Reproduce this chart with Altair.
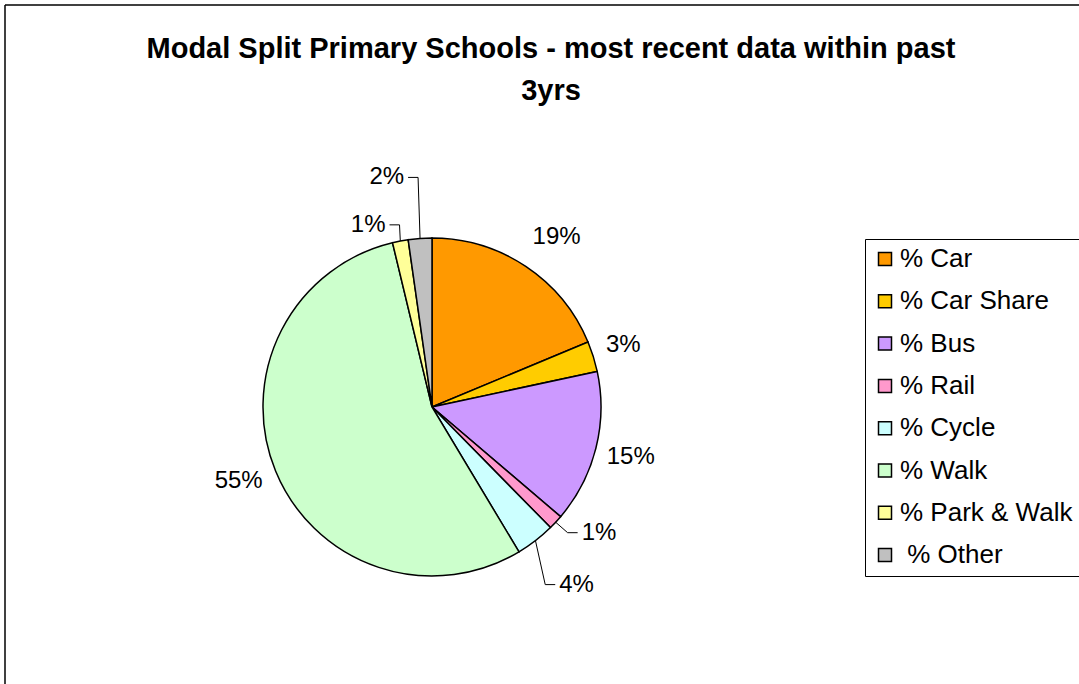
import math
import pandas as pd
import altair as alt

# ---------------- data ----------------
categories = ["% Car", "% Car Share", "% Bus", "% Rail", "% Cycle", "% Walk",
              "% Park & Walk", "\u200b\u00a0% Other"]
shares = [18.7, 2.9, 14.6, 1.4, 3.75, 54.8, 1.5, 2.25]
share_labels = ["19%", "3%", "15%", "1%", "4%", "55%", "1%", "2%"]
title_lines = ["Modal Split Primary Schools - most recent data within past", "3yrs"]

# ---------------- style ----------------
colors = ["#FF9900", "#FFCC00", "#CC99FF", "#FF99CC", "#CCFFFF", "#CCFFCC",
          "#FFFF99", "#C0C0C0"]
FONT = "Liberation Sans, Arial, sans-serif"

# ---------------- layout ----------------
W, H = 1074, 679
CX, CY, R = 427, 402, 169          # pie centre / radius in plot pixels
label_shift_deg = [2.5, -0.5, 0.0, -6.0, -1.4, 1.3, -8.5, -7.1]
label_dist = [211, 201, 205, 209, 229, 207, 193, 234]
has_leader = [False, False, False, True, True, False, True, True]
LABEL_SIZE = 24

# ---------------- derived tables ----------------
total = sum(shares)
rows, leaders = [], []
cum = 0.0
for i, (c, v, lab) in enumerate(zip(categories, shares, share_labels)):
    mid = (cum + v / 2) / total * 360
    cum += v
    a = math.radians(mid + label_shift_deg[i])
    px, py = label_dist[i] * math.sin(a), label_dist[i] * math.cos(a)
    rows.append(dict(cat=c, share=v, idx=i, label=lab, lx=px / R, ly=py / R))
    if has_leader[i]:
        m = math.radians(mid)
        ax, ay = R * math.sin(m), R * math.cos(m)
        side = 1 if px > ax else -1
        hw = 0.5 * LABEL_SIZE * (0.556 * (len(lab) - 1) + 0.889)
        ex = px - side * (hw + 4)
        elx = ex - side * 10
        for s, (x, y) in enumerate([(ax, ay), (elx, py), (ex, py)]):
            leaders.append(dict(cat=c, step=s, x=x / R, y=y / R))

df = pd.DataFrame(rows)
ldf = pd.DataFrame(leaders)
tdf = pd.DataFrame({"title": ["\n".join(title_lines)]})
one = pd.DataFrame({"k": [0]})

xs = alt.Scale(domain=[-CX / R, (W - CX) / R], nice=False, zero=False)
ys = alt.Scale(domain=[-(H - CY) / R, CY / R], nice=False, zero=False)

pie = alt.Chart(df).mark_arc(outerRadius=R, stroke="black", strokeWidth=1.5).encode(
    theta=alt.Theta("share:Q", stack=True),
    order=alt.Order("idx:Q"),
    color=alt.Color(
        "cat:N",
        sort=categories,
        scale=alt.Scale(domain=categories, range=colors),
        legend=alt.Legend(
            title=None, orient="none", legendX=860, legendY=234,
            symbolType="square", symbolSize=169,
            symbolStrokeColor="black", symbolStrokeWidth=1.5, symbolOpacity=1,
            labelFont=FONT, labelFontSize=26, labelColor="black",
            labelOffset=2, labelLimit=400, rowPadding=16.3, padding=7,
            strokeColor="black", fillColor="white",
        ),
    ),
    x=alt.XDatum(0, type="quantitative", scale=xs, axis=None),
    y=alt.YDatum(0, type="quantitative", scale=ys, axis=None),
)

labels = alt.Chart(df).mark_text(
    font=FONT, fontSize=LABEL_SIZE, color="black", align="center", baseline="middle"
).encode(
    x=alt.X("lx:Q", scale=xs, axis=None),
    y=alt.Y("ly:Q", scale=ys, axis=None),
    text="label:N",
)

leader_lines = alt.Chart(ldf).mark_line(color="black", strokeWidth=1).encode(
    x=alt.X("x:Q", scale=xs, axis=None),
    y=alt.Y("y:Q", scale=ys, axis=None),
    detail="cat:N",
    order="step:Q",
)

title = alt.Chart(tdf).mark_text(
    font=FONT, fontSize=29, fontWeight="bold", color="black", align="center",
    baseline="middle", lineBreak="\n", lineHeight=42,
).encode(x=alt.value(546), y=alt.value(44), text="title:N")

frame_left = alt.Chart(one).mark_rule(color="black", strokeWidth=1.5).encode(
    x=alt.value(0), y=alt.value(0), y2=alt.value(H + 10))
frame_top = alt.Chart(one).mark_rule(color="black", strokeWidth=1.5).encode(
    y=alt.value(0), x=alt.value(0), x2=alt.value(W + 10))

chart = alt.layer(frame_left, frame_top, title, pie, leader_lines, labels).properties(
    width=W, height=H,
    padding={"left": 5, "top": 5, "right": 0, "bottom": 0},
    autosize=alt.AutoSizeParams(type="none"),
    background="white",
).configure_view(stroke=None)

chart.save("out.html", embed_options={"renderer": "svg", "actions": False})
